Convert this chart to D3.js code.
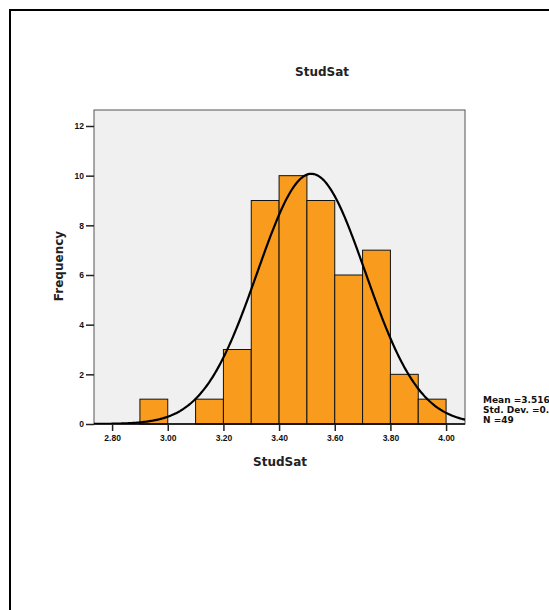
<!DOCTYPE html>
<html lang="en">
<head>
    <meta charset="UTF-8">
    <title>StudSat Histogram</title>
    <script src="https://d3js.org/d3.v7.min.js"></script>
    <style>
        body { margin: 0; background: #fff; font-family: "DejaVu Sans", Verdana, sans-serif; }
        svg { display: block; }
        .tick text { font-size: 8.5px; font-weight: bold; fill: #111; }
        .title { font-size: 12px; font-weight: bold; text-anchor: middle; fill: #222; }
        .stats { font-size: 9px; font-weight: bold; fill: #111; }
    </style>
</head>
<body>
    <svg width="549" height="610"></svg>
    <script>
        // bins of width 0.1 (lower edges) and their counts
        const binStarts = [2.9, 3.0, 3.1, 3.2, 3.3, 3.4, 3.5, 3.6, 3.7, 3.8, 3.9];
        const counts    = [1, 0, 1, 3, 9, 10, 9, 6, 7, 2, 1];
        const binWidth = 0.1;
        const xTicks = [2.8, 3.0, 3.2, 3.4, 3.6, 3.8, 4.0];
        const yTicks = [0, 2, 4, 6, 8, 10, 12];
        const mean = 3.516, sd = 0.194, n = 49;

        const svg = d3.select("svg");
        const plotL = 94, plotR = 465, plotT = 110, plotB = 424;

        // outer frame of the output viewer
        svg.append("rect").attr("x", 10).attr("y", 10).attr("width", 600).attr("height", 700)
            .attr("fill", "none").attr("stroke", "#000").attr("stroke-width", 2);

        const x = d3.scaleLinear().domain([2.735, 4.068]).range([plotL, plotR]);
        const y = d3.scaleLinear().domain([0, 12]).range([plotB, plotB - 298]);

        svg.append("rect").attr("x", plotL).attr("y", plotT).attr("width", plotR - plotL).attr("height", plotB - plotT)
            .attr("fill", "#f0f0f0").attr("stroke", "#555").attr("stroke-width", 1);

        svg.append("clipPath").attr("id", "plot").append("rect")
            .attr("x", plotL).attr("y", plotT).attr("width", plotR - plotL).attr("height", plotB - plotT);

        svg.append("g").selectAll("rect")
            .data(binStarts.map((s, i) => ({ s, c: counts[i] })).filter(d => d.c > 0))
            .join("rect")
            .attr("x", d => x(d.s))
            .attr("width", d => x(d.s + binWidth) - x(d.s))
            .attr("y", d => y(d.c))
            .attr("height", d => y(0) - y(d.c))
            .attr("fill", "#f99c1e").attr("stroke", "#111").attr("stroke-width", 1);

        // normal curve scaled to counts
        const pts = d3.range(2.70, 4.10, 0.005).map(v => [v,
            n * binWidth / (sd * Math.sqrt(2 * Math.PI)) * Math.exp(-0.5 * ((v - mean) / sd) ** 2)]);
        svg.append("path").datum(pts)
            .attr("clip-path", "url(#plot)")
            .attr("d", d3.line().x(d => x(d[0])).y(d => y(d[1])))
            .attr("fill", "none").attr("stroke", "#000").attr("stroke-width", 2.2);

        svg.append("line").attr("x1", plotL).attr("x2", plotR).attr("y1", plotB).attr("y2", plotB)
            .attr("stroke", "#000").attr("stroke-width", 1.5);

        const xAxis = svg.append("g").attr("transform", `translate(0,${plotB})`)
            .call(d3.axisBottom(x).tickValues(xTicks).tickFormat(d3.format(".2f")).tickSize(7).tickPadding(4));
        xAxis.select(".domain").remove();
        xAxis.selectAll(".tick line").attr("stroke", "#222").attr("stroke-width", 1.5);

        const yAxis = svg.append("g").attr("transform", `translate(${plotL},0)`)
            .call(d3.axisLeft(y).tickValues(yTicks).tickSize(8).tickPadding(2));
        yAxis.select(".domain").remove();
        yAxis.selectAll(".tick line").attr("stroke", "#222").attr("stroke-width", 1.5);

        svg.append("text").attr("class", "title").attr("x", 322).attr("y", 76).text("StudSat");
        svg.append("text").attr("class", "title").attr("x", 280).attr("y", 466).text("StudSat");
        svg.append("text").attr("class", "title")
            .attr("transform", "translate(63,266) rotate(-90)").text("Frequency");

        const stats = [`Mean =${mean}`, `Std. Dev. =${sd}`, `N =${n}`];
        svg.append("g").selectAll("text").data(stats).join("text")
            .attr("class", "stats").attr("x", 483).attr("y", (d, i) => 403 + i * 10).text(d => d);
    </script>
</body>
</html>
